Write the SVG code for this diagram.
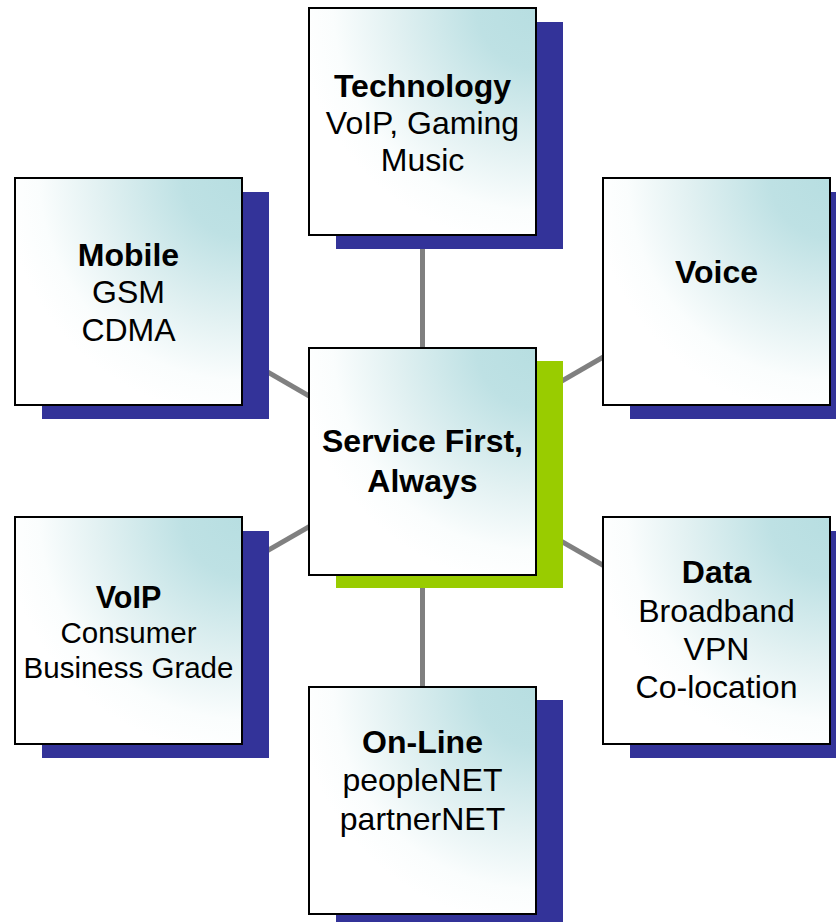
<svg xmlns="http://www.w3.org/2000/svg" width="836" height="922" viewBox="0 0 836 922">
  <defs>
    <radialGradient id="fill" cx="1" cy="0" r="1.05" fx="1" fy="0">
      <stop offset="0" stop-color="#b7dee1"/>
      <stop offset="0.25" stop-color="#bee1e4"/>
      <stop offset="0.6" stop-color="#e2f1f2"/>
      <stop offset="0.85" stop-color="#fafdfd"/>
      <stop offset="1" stop-color="#ffffff"/>
    </radialGradient>
  </defs>
  <style>
    .box { fill: url(#fill); stroke: #000000; stroke-width: 2; }
    .shadow { fill: #333399; }
    .shadow-c { fill: #99cc00; }
    .conn { stroke: #808080; stroke-width: 5; fill: none; }
    text { font-family: "Liberation Sans", Arial, sans-serif; font-size: 32px; fill: #000000; text-anchor: middle; }
    .b { font-weight: bold; }
    .s { font-size: 29.5px; }
  </style>

  <g id="connectors">
    <line class="conn" x1="422.5" y1="461.5" x2="422.5" y2="121.5"/>
    <line class="conn" x1="422.5" y1="461.5" x2="422.5" y2="800"/>
    <line class="conn" x1="422.5" y1="461.5" x2="128.5" y2="291.5"/>
    <line class="conn" x1="422.5" y1="461.5" x2="716.5" y2="291.5"/>
    <line class="conn" x1="422.5" y1="461.5" x2="128.5" y2="630.5"/>
    <line class="conn" x1="422.5" y1="461.5" x2="716.5" y2="630.5"/>
  </g>

  <g id="technology">
    <rect class="shadow" x="336" y="22" width="227" height="227"/>
    <rect class="box" x="309" y="8" width="227" height="227"/>
    <text class="b" x="422.5" y="97">Technology</text>
    <text x="422.5" y="134">VoIP, Gaming</text>
    <text x="422.5" y="171">Music</text>
  </g>

  <g id="mobile">
    <rect class="shadow" x="42" y="192" width="227" height="227"/>
    <rect class="box" x="15" y="178" width="227" height="227"/>
    <text class="b" x="128.5" y="266">Mobile</text>
    <text x="128.5" y="303">GSM</text>
    <text x="128.5" y="341">CDMA</text>
  </g>

  <g id="voice">
    <rect class="shadow" x="630" y="192" width="227" height="227"/>
    <rect class="box" x="603" y="178" width="227" height="227"/>
    <text class="b" x="716.5" y="283">Voice</text>
  </g>

  <g id="center">
    <rect class="shadow-c" x="336" y="361" width="227" height="227"/>
    <rect class="box" x="309" y="348" width="227" height="227"/>
    <text class="b" x="422.5" y="452">Service First,</text>
    <text class="b" x="422.5" y="492">Always</text>
  </g>

  <g id="voip">
    <rect class="shadow" x="42" y="531" width="227" height="227"/>
    <rect class="box" x="15" y="517" width="227" height="227"/>
    <text class="b" x="128.5" y="608" style="font-size:30.5px">VoIP</text>
    <text class="s" x="128.5" y="643">Consumer</text>
    <text class="s" x="128.5" y="678">Business Grade</text>
  </g>

  <g id="data">
    <rect class="shadow" x="630" y="531" width="227" height="227"/>
    <rect class="box" x="603" y="517" width="227" height="227"/>
    <text class="b" x="716.5" y="583">Data</text>
    <text x="716.5" y="622">Broadband</text>
    <text x="716.5" y="660">VPN</text>
    <text x="716.5" y="698">Co-location</text>
  </g>

  <g id="online">
    <rect class="shadow" x="336" y="700" width="227" height="227"/>
    <rect class="box" x="309" y="687" width="227" height="227"/>
    <text class="b" x="422.5" y="753">On-Line</text>
    <text x="422.5" y="791">peopleNET</text>
    <text x="422.5" y="830">partnerNET</text>
  </g>
</svg>
